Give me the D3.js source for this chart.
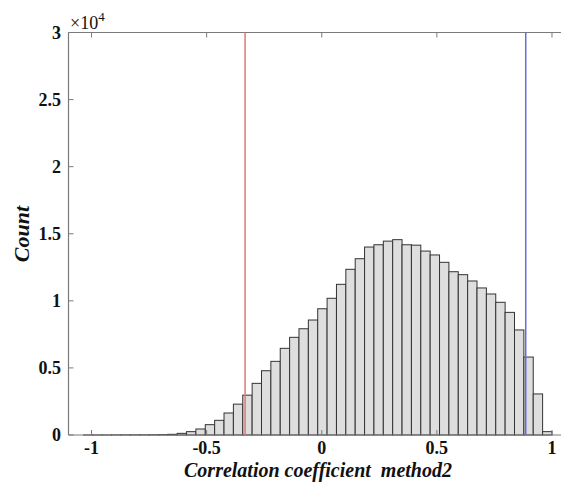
<!DOCTYPE html>
<html>
<head>
<meta charset="utf-8">
<script src="https://cdn.jsdelivr.net/npm/d3@7"></script>
<style>
	body { margin: 0; background: #fff; }
</style>
</head>
<body>
<div id="chart"></div>
<script>
// histogram bins: 50 bins of equal width, first left edge and width
var binStart = -1.035,
	binWidth = 0.0407;

// counts per bin (left to right)
var counts = [
	3, 5, 6, 8, 10, 12, 15, 20, 30, 50,
	124, 250, 447, 770, 1093, 1640, 2300, 2970, 3850, 4790,
	5490, 6460, 7280, 7920, 8570, 9410, 10190, 11230, 12350, 13140,
	14010, 14180, 14450, 14560, 14180, 14150, 13710, 13420, 12870, 12170,
	11950, 11480, 10960, 10510, 9890, 9140, 7830, 5810, 3060, 250
];

var xTicks = [-1, -0.5, 0, 0.5, 1],
	yTicks = [0, 5000, 10000, 15000, 20000, 25000, 30000];

// threshold lines
var redLine = -0.333,
	blueLine = 0.886;

var _width = 561,
	_height = 489;

var serif = "'Liberation Serif', 'Times New Roman', 'DejaVu Serif', serif";

var plot = {
	left: 68.5,
	right: 575,
	top: 32.5,
	bottom: 435
};

var x = d3.scaleLinear().domain([-1.1, 1.1]).range([plot.left, plot.right]),
	y = d3.scaleLinear().domain([0, 30000]).range([plot.bottom, plot.top]);

var svg = d3.select("#chart").append("svg")
	.attr("width", _width)
	.attr("height", _height)
	.attr("font-family", serif)
	.attr("font-weight", "bold");

var bins = counts.map(function(c, i) {
	return { x0: binStart + i * binWidth, x1: binStart + (i + 1) * binWidth, n: c };
});

// bars
svg.append("g").selectAll("rect.bar")
	.data(bins)
	.enter()
	.append("rect")
	.attr("class", "bar")
	.attr("x", function(d) { return x(d.x0); })
	.attr("y", function(d) { return y(d.n); })
	.attr("width", function(d) { return x(d.x1) - x(d.x0); })
	.attr("height", function(d) { return y(0) - y(d.n); })
	.attr("fill", "#dedede")
	.attr("stroke", "#333")
	.attr("stroke-width", 1);

// axis box (left + top + bottom, right is off the page)
var axisColor = "#7a7a7a";
svg.append("line")
	.attr("x1", plot.left).attr("x2", plot.left)
	.attr("y1", plot.top).attr("y2", plot.bottom)
	.attr("stroke", axisColor).attr("stroke-width", 1.2);
svg.append("line")
	.attr("x1", plot.left).attr("x2", plot.right)
	.attr("y1", plot.top).attr("y2", plot.top)
	.attr("stroke", axisColor).attr("stroke-width", 1.2);
svg.append("line")
	.attr("x1", plot.left).attr("x2", plot.right)
	.attr("y1", plot.bottom).attr("y2", plot.bottom)
	.attr("stroke", axisColor).attr("stroke-width", 1.2);

// inward ticks
var tickLen = 5;
svg.append("g").selectAll("line.xt")
	.data(xTicks)
	.enter()
	.append("line")
	.attr("x1", function(d) { return x(d); })
	.attr("x2", function(d) { return x(d); })
	.attr("y1", plot.bottom)
	.attr("y2", plot.bottom - tickLen)
	.attr("stroke", axisColor).attr("stroke-width", 1);
svg.append("g").selectAll("line.xtt")
	.data(xTicks)
	.enter()
	.append("line")
	.attr("x1", function(d) { return x(d); })
	.attr("x2", function(d) { return x(d); })
	.attr("y1", plot.top)
	.attr("y2", plot.top + tickLen)
	.attr("stroke", axisColor).attr("stroke-width", 1);
svg.append("g").selectAll("line.yt")
	.data(yTicks)
	.enter()
	.append("line")
	.attr("x1", plot.left)
	.attr("x2", plot.left + tickLen)
	.attr("y1", function(d) { return y(d); })
	.attr("y2", function(d) { return y(d); })
	.attr("stroke", axisColor).attr("stroke-width", 1);

// vertical threshold lines
svg.append("line")
	.attr("x1", x(redLine)).attr("x2", x(redLine))
	.attr("y1", plot.top).attr("y2", plot.bottom)
	.attr("stroke", "#e07878").attr("stroke-width", 1.5);
svg.append("line")
	.attr("x1", x(blueLine)).attr("x2", x(blueLine))
	.attr("y1", plot.top).attr("y2", plot.bottom)
	.attr("stroke", "#6a6ae0").attr("stroke-width", 1.5);

// tick labels
svg.append("g").selectAll("text.xl")
	.data(xTicks)
	.enter()
	.append("text")
	.attr("x", function(d) { return x(d); })
	.attr("y", 454)
	.attr("text-anchor", "middle")
	.attr("font-size", 18)
	.attr("fill", "#111")
	.text(function(d) { return String(d); });

svg.append("g").selectAll("text.yl")
	.data(yTicks)
	.enter()
	.append("text")
	.attr("x", 61)
	.attr("y", function(d) { return y(d) + 6; })
	.attr("text-anchor", "end")
	.attr("font-size", 18)
	.attr("fill", "#111")
	.text(function(d) { return d / 10000; });

// exponent
var expo = svg.append("text")
	.attr("x", 70)
	.attr("y", 29)
	.attr("font-size", 18)
	.attr("font-weight", "normal")
	.attr("fill", "#111");
expo.append("tspan").text("×10");
expo.append("tspan")
	.attr("dy", -8)
	.attr("font-size", 13)
	.text("4");

// axis titles
svg.append("text")
	.attr("x", 318)
	.attr("y", 477)
	.attr("text-anchor", "middle")
	.attr("font-size", 20)
	.attr("font-style", "italic")
	.attr("fill", "#111")
	.style("white-space", "pre")
	.text("Correlation coefficient  method2");

svg.append("text")
	.attr("transform", "translate(29,234) rotate(-90)")
	.attr("text-anchor", "middle")
	.attr("font-size", 22)
	.attr("font-style", "italic")
	.attr("fill", "#111")
	.text("Count");
</script>
</body>
</html>
